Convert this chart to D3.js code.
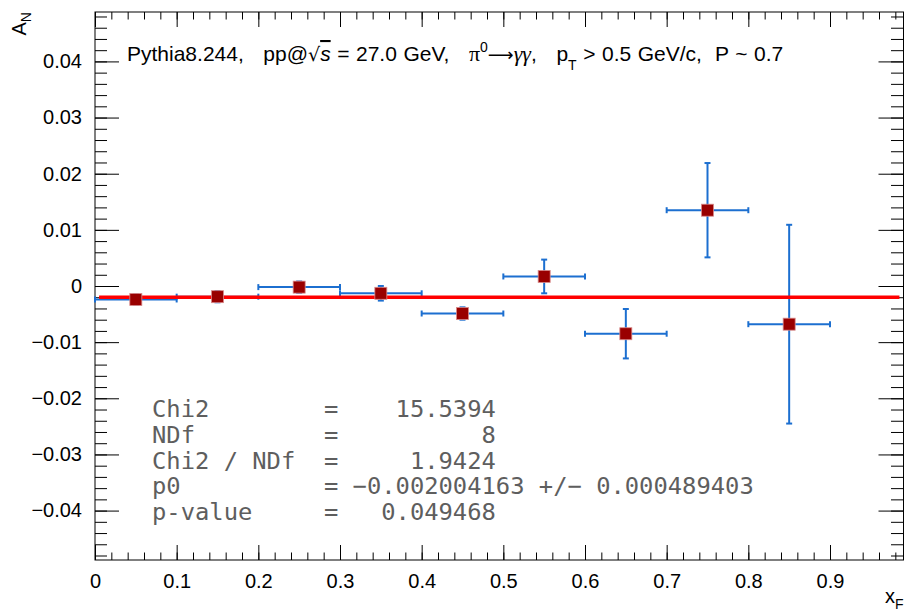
<!DOCTYPE html>
<html>
<head>
<meta charset="utf-8">
<script src="https://cdn.jsdelivr.net/npm/d3@7"></script>
<style>
  body { margin: 0; background: #fff; }
  svg { display: block; font-family: "Liberation Sans", Arial, Helvetica, sans-serif; }
</style>
</head>
<body>
<svg id="chart" width="906" height="611"></svg>
<script>
// ---- data ----
const xCenters = [0.05, 0.15, 0.25, 0.35, 0.45, 0.55, 0.65, 0.75, 0.85];
const xHalfWidth = [0.05, 0.05, 0.05, 0.05, 0.05, 0.05, 0.05, 0.05, 0.05];
const asym = [-0.0024, -0.0019, -0.0002, -0.0013, -0.0049, 0.0017, -0.0085, 0.0135, -0.0068];
const asymErr = [0.0009, 0.0010, 0.0010, 0.0013, 0.0011, 0.0030, 0.0044, 0.0084, 0.0177];
const fitP0 = -0.002004163;

const xTicks = [0, 0.1, 0.2, 0.3, 0.4, 0.5, 0.6, 0.7, 0.8, 0.9];
const xTickLabels = ["0", "0.1", "0.2", "0.3", "0.4", "0.5", "0.6", "0.7", "0.8", "0.9"];
const yTicks = [-0.04, -0.03, -0.02, -0.01, 0, 0.01, 0.02, 0.03, 0.04];
const yTickLabels = ["\u22120.04", "\u22120.03", "\u22120.02", "\u22120.01", "0", "0.01", "0.02", "0.03", "0.04"];

const statLabels = ["Chi2", "NDf", "Chi2 / NDf", "p0", "p-value"];
const statValues = ["15.5394", "8", "1.9424", "\u22120.002004163 +/\u2212 0.000489403", "0.049468"];

// ---- layout ----
const W = 906, H = 611;
const margin = { left: 95, right: 2.5, top: 12, bottom: 51 };

const svg = d3.select("#chart");

const x = d3.scaleLinear().domain([0, 0.99]).range([margin.left, W - margin.right]);
const y = d3.scaleLinear().domain([-0.0488, 0.0488]).range([H - margin.bottom, margin.top]);

const x0 = x.range()[0], x1 = x.range()[1];
const y0 = y.range()[0], y1 = y.range()[1];

const tickFmt = (labels, ticks) => d => labels[ticks.indexOf(d)];

function cleanAxis(g) {
  g.attr("font-family", null).attr("font-size", null);
  g.select(".domain").remove();
  g.selectAll(".tick line").attr("stroke", "#000").attr("stroke-width", 1);
}

// minor ticks
svg.append("g").attr("transform", `translate(0,${y0})`)
  .call(d3.axisBottom(x).tickValues(x.ticks(50)).tickSize(-7.5).tickFormat(""))
  .call(cleanAxis);
svg.append("g").attr("transform", `translate(0,${y1})`)
  .call(d3.axisTop(x).tickValues(x.ticks(50)).tickSize(-7.5).tickFormat(""))
  .call(cleanAxis);
svg.append("g").attr("transform", `translate(${x0},0)`)
  .call(d3.axisLeft(y).tickValues(y.ticks(50)).tickSize(-12).tickFormat(""))
  .call(cleanAxis);
svg.append("g").attr("transform", `translate(${x1},0)`)
  .call(d3.axisRight(y).tickValues(y.ticks(50)).tickSize(-12.5).tickFormat(""))
  .call(cleanAxis);

// major ticks + labels
svg.append("g").attr("transform", `translate(0,${y0})`)
  .call(d3.axisBottom(x).tickValues(xTicks).tickSize(-15).tickPadding(14)
    .tickFormat(tickFmt(xTickLabels, xTicks)))
  .call(cleanAxis)
  .selectAll("text").attr("fill", "#000").attr("font-size", 20);
svg.append("g").attr("transform", `translate(0,${y1})`)
  .call(d3.axisTop(x).tickValues(xTicks).tickSize(-15).tickFormat(""))
  .call(cleanAxis);
svg.append("g").attr("transform", `translate(${x0},0)`)
  .call(d3.axisLeft(y).tickValues(yTicks).tickSize(-24).tickPadding(13)
    .tickFormat(tickFmt(yTickLabels, yTicks)))
  .call(cleanAxis)
  .selectAll("text").attr("fill", "#000").attr("font-size", 20);
svg.append("g").attr("transform", `translate(${x1},0)`)
  .call(d3.axisRight(y).tickValues(yTicks).tickSize(-25).tickFormat(""))
  .call(cleanAxis);

// frame
svg.append("rect")
  .attr("x", x0).attr("y", y1)
  .attr("width", x1 - x0).attr("height", y0 - y1)
  .attr("fill", "none").attr("stroke", "#000").attr("stroke-width", 1);

// ---- data points ----
const pts = xCenters.map((xc, i) => ({ x: xc, dx: xHalfWidth[i], y: asym[i], dy: asymErr[i] }));
const errColor = "#1c6fd0";
const cap = 3;

const eb = svg.append("g").attr("stroke", errColor).attr("stroke-width", 2).attr("fill", "none");
const eg = eb.selectAll("g").data(pts).join("g");
eg.append("line")
  .attr("x1", d => x(d.x - d.dx)).attr("x2", d => x(d.x + d.dx))
  .attr("y1", d => y(d.y)).attr("y2", d => y(d.y));
eg.append("line")
  .attr("x1", d => x(d.x)).attr("x2", d => x(d.x))
  .attr("y1", d => y(d.y + d.dy)).attr("y2", d => y(d.y - d.dy));
// caps
eg.append("line")
  .attr("x1", d => x(d.x - d.dx)).attr("x2", d => x(d.x - d.dx))
  .attr("y1", d => y(d.y) - cap).attr("y2", d => y(d.y) + cap);
eg.append("line")
  .attr("x1", d => x(d.x + d.dx)).attr("x2", d => x(d.x + d.dx))
  .attr("y1", d => y(d.y) - cap).attr("y2", d => y(d.y) + cap);
eg.append("line")
  .attr("x1", d => x(d.x) - cap).attr("x2", d => x(d.x) + cap)
  .attr("y1", d => y(d.y + d.dy)).attr("y2", d => y(d.y + d.dy));
eg.append("line")
  .attr("x1", d => x(d.x) - cap).attr("x2", d => x(d.x) + cap)
  .attr("y1", d => y(d.y - d.dy)).attr("y2", d => y(d.y - d.dy));

// fit line (constant p0)
svg.append("line")
  .attr("x1", x(0.005)).attr("x2", x(0.985))
  .attr("y1", y(fitP0)).attr("y2", y(fitP0))
  .attr("stroke", "#ff0000").attr("stroke-width", 3.5);

// markers
const ms = 12;
svg.append("g").selectAll("rect").data(pts).join("rect")
  .attr("x", d => x(d.x) - ms / 2).attr("y", d => y(d.y) - ms / 2)
  .attr("width", ms).attr("height", ms)
  .attr("fill", "#990000").attr("stroke", "#d88a8a").attr("stroke-width", 0.8);

// ---- title text ----
const serif = "'Liberation Serif', 'Times New Roman', serif";
const title = svg.append("text")
  .attr("x", 127).attr("y", 61)
  .attr("font-size", 21).attr("fill", "#000")
  .style("word-spacing", "0.7px")
  .style("white-space", "pre");
title.append("tspan").text("Pythia8.244,   pp@");
title.append("tspan").style("font-family", "'DejaVu Sans', sans-serif").attr("font-size", 19).text("\u221a");
title.append("tspan").attr("font-style", "italic").style("text-decoration", "overline").text("s");
title.append("tspan").text(" = 27.0 GeV,   ");
title.append("tspan").style("font-family", serif).attr("font-size", 22).text("\u03c0");
title.append("tspan").attr("font-size", 14).attr("dy", -9).text("0");
title.append("tspan").attr("dy", 9).style("font-family", "'DejaVu Sans', sans-serif").attr("font-size", 18).text("\u27f6");
title.append("tspan").style("font-family", serif).attr("font-style", "italic").attr("font-size", 22).text("\u03b3\u03b3");
title.append("tspan").text(",   p");
title.append("tspan").attr("font-size", 14).attr("dy", 9).text("T");
title.append("tspan").attr("dy", -9).text(" > 0.5 GeV/c,  P ~ 0.7");

// ---- axis titles ----
const yt = svg.append("text")
  .attr("transform", `translate(26,${y1}) rotate(-90)`)
  .attr("text-anchor", "end").attr("font-size", 20).attr("fill", "#000");
yt.append("tspan").text("A");
yt.append("tspan").attr("font-size", 14).attr("dy", 5).text("N");

const xt = svg.append("text")
  .attr("x", x1).attr("y", 603)
  .attr("text-anchor", "end").attr("font-size", 20).attr("fill", "#000");
xt.append("tspan").text("x");
xt.append("tspan").attr("font-size", 14).attr("dy", 6).text("F");

// ---- fit statistics ----
const statLines = statLabels.map((lab, i) =>
  lab.padEnd(12) + "=" + (lab === "p0" ? " " + statValues[i] : statValues[i].padStart(11)));

svg.append("g").selectAll("text").data(statLines).join("text")
  .attr("x", 152).attr("y", (d, i) => 417 + i * 25.75)
  .style("font-family", "'DejaVu Sans Mono', monospace")
  .attr("font-size", 23.8).attr("fill", "#5e5e5e")
  .style("white-space", "pre")
  .text(d => d);
</script>
</body>
</html>
